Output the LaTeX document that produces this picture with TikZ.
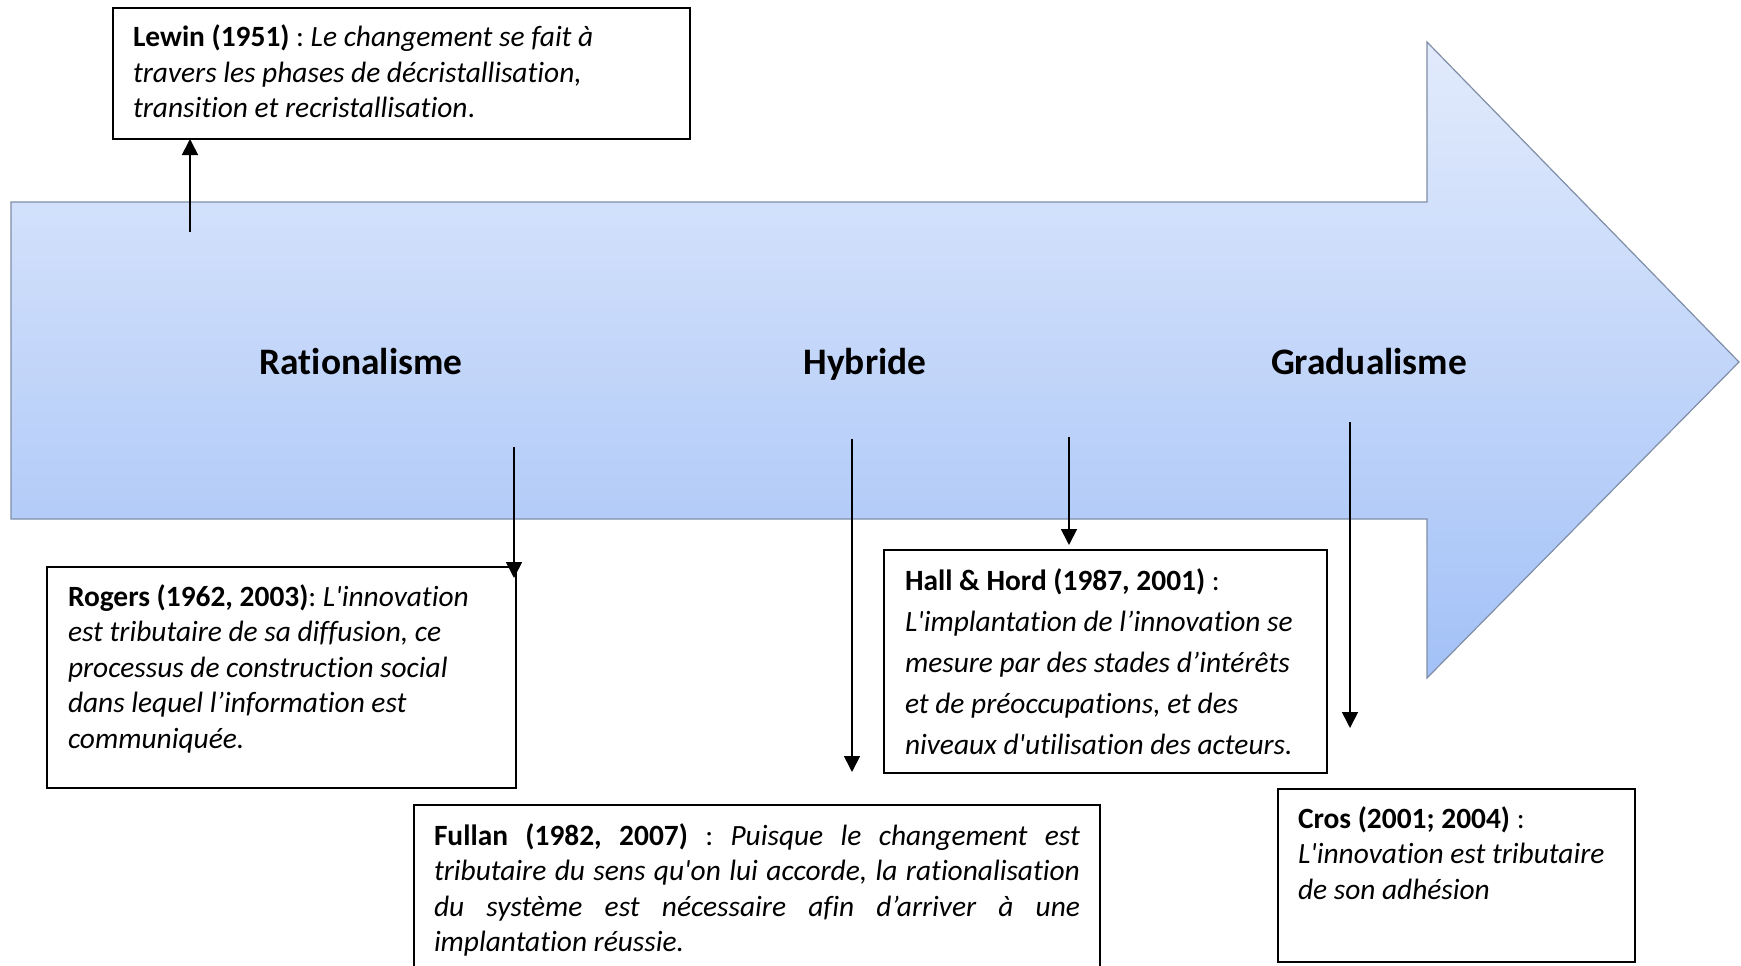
\documentclass[tikz,border=0pt]{standalone}
\usepackage{fontspec}
\setmainfont{Carlito}[Ligatures={NoCommon}]
\usetikzlibrary{arrows.meta}

\definecolor{arrtop}{HTML}{E2EBFC}
\definecolor{arrbot}{HTML}{A3C1F7}
\definecolor{arredge}{HTML}{7F8EA6}

\frenchspacing
\newcommand\bodyfont{\fontsize{29.4}{35.5}\selectfont}
\newcommand\hallfont{\fontsize{29.4}{41}\selectfont}
\newcommand\topstrut{\rule{0pt}{22pt}}
\newcommand\sq{\textquotesingle}

\begin{document}
\begin{tikzpicture}[x=1pt,y=-1pt,
  note/.style={draw=black, line width=2pt, anchor=north west, outer sep=0pt},
  conn/.style={line width=1.7pt, -{Triangle[length=16pt,width=16pt]}},
  phase/.style={font=\fontsize{37.4}{44}\selectfont\bfseries, inner sep=0pt, anchor=base}
]
\useasboundingbox (0,0) rectangle (1741,966);
\clip (0,0) rectangle (1741,966);

% the large timeline arrow
\shade[top color=arrtop, bottom color=arrbot, draw=arredge, line width=1.2pt]
  (11,202) -- (1427,202) -- (1427,42) -- (1739,362) -- (1427,678)
  -- (1427,519) -- (11,519) -- cycle;

% phases
\node[phase] (rat) at (361,374) {Rationalisme};
\node[phase] (hyb) at (865,374) {Hybride};
\node[phase] (grad) at (1369,374) {Gradualisme};

% author boxes
\node[note, inner xsep=20pt, inner ysep=17pt] (lewin) at (113,8)
  {\parbox[t][97pt][t]{537pt}{\bodyfont\topstrut\textbf{Lewin (1951)} : \textit{Le changement se fait à}\\
   \textit{travers les phases de décristallisation,}\\
   \textit{transition et recristallisation}.}};

\node[note, inner xsep=21pt, inner ysep=17pt] (rogers) at (47,567)
  {\parbox[t][187pt][t]{427pt}{\bodyfont\topstrut\textbf{Rogers (1962, 2003)}: \textit{L\sq innovation}\\
   \textit{est tributaire de sa diffusion, ce}\\
   \textit{processus de construction social}\\
   \textit{dans lequel l’information est}\\
   \textit{communiquée.}}};

\node[note, inner xsep=20pt, inner ysep=18pt] (fullan) at (414,805)
  {\parbox[t][164pt][t]{646pt}{\bodyfont\topstrut\textbf{Fullan (1982, 2007)} : \textit{Puisque le changement est}\linebreak
   \textit{tributaire du sens qu\sq on lui accorde, la rationalisation}\linebreak
   \textit{du système est nécessaire afin d’arriver à une}\linebreak
   \textit{implantation réussie.}}};

\node[note, inner xsep=21pt, inner ysep=18pt] (hall) at (884,550)
  {\parbox[t][187pt][t]{401pt}{\hallfont\topstrut\textbf{Hall \& Hord (1987, 2001)} :\\
   \textit{L\sq implantation de l’innovation se}\\
   \textit{mesure par des stades d’intérêts}\\
   \textit{et de préoccupations, et des}\\
   \textit{niveaux d\sq utilisation des acteurs.}}};

\node[note, inner xsep=20pt, inner ysep=17pt] (cros) at (1278,789)
  {\parbox[t][139pt][t]{317pt}{\bodyfont\topstrut\textbf{Cros (2001; 2004)} :\\
   \textit{L\sq innovation est tributaire}\\
   \textit{de son adhésion}}};

% connectors
\coordinate (pLewin) at (190,232);
\coordinate (pRogers) at (514,447);
\coordinate (pHybA) at (852,439);
\coordinate (pHybB) at (852,772);
\coordinate (pHall) at (1069,437);
\coordinate (pGradA) at (1350,422);
\coordinate (pGradB) at (1350,728);

\draw[conn] (pLewin) -- (pLewin |- lewin.south);
\draw[conn] (pRogers) -- ([yshift=-11pt]pRogers |- rogers.north);
\draw[conn] (pHybA) -- (pHybB);
\draw[conn] (pHall) -- ([yshift=5pt]pHall |- hall.north);
\draw[conn] (pGradA) -- (pGradB);
\end{tikzpicture}
\end{document}
